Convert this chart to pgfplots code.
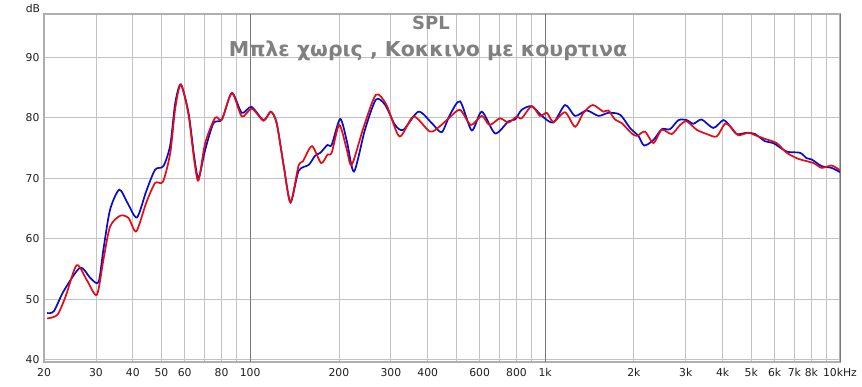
\documentclass[border=0pt]{standalone}
\usepackage{fontspec}
\setmainfont{DejaVu Sans}
\usepackage{pgfplots}
\pgfplotsset{compat=1.18}
\definecolor{bl}{RGB}{10,10,205}
\definecolor{rd}{RGB}{228,12,20}
\definecolor{tt}{RGB}{128,128,128}
\definecolor{gr}{RGB}{195,195,195}
\definecolor{gd}{RGB}{120,120,120}
\begin{document}
\begin{tikzpicture}
\path[use as bounding box] (0pt,0pt) rectangle (862pt,386pt);
\begin{axis}[at={(44pt,24pt)}, anchor=south west, scale only axis,
  width=796pt, height=348pt,
  xmode=log, xmin=20, xmax=10000, ymin=39.6, ymax=97.15,
  xtick={20,30,40,50,60,70,80,90,200,300,400,500,600,700,800,900,2000,3000,4000,5000,6000,7000,8000,9000},
  xticklabels={20,30,40,50,60,,80,,200,300,400,,600,,800,,2k,3k,4k,5k,6k,7k,8k,},
  extra x ticks={100,1000,10000},
  extra x tick labels={100,1k,10kHz},
  extra x tick style={grid style={draw=gd, line width=0.8pt}},
  ytick={40,50,60,70,80,90},
  major tick length=0pt,
  grid=major,
  grid style={draw=gr, line width=0.8pt},
  axis line style={draw=gr!90!black, line width=1.6pt},
  /pgf/number format/assume math mode=true,
  ticklabel style={font=\fontsize{10.8}{12}\selectfont, text=black!88},
  xticklabel style={yshift=-2.5pt},
  yticklabel style={xshift=-1pt},
  clip=true,
]
\addplot[draw=bl, line width=1.7pt, smooth, tension=0.45] coordinates {
(20.5,47.7)(21.6,48.0)(23.3,51.3)(26.5,55.2)(28.7,53.5)(30.6,52.8)(31.8,58.2)
(33.5,64.8)(36.0,68.1)(38.4,65.9)(41.3,63.5)(44.4,67.8)(47.6,71.4)(50.8,72.0)
(53.6,75.5)(55.7,82.4)(58.2,85.5)(61.8,80.8)(64.6,73.6)(66.8,70.0)(70.4,74.7)
(75.1,79.1)(80.2,79.7)(86.7,84.1)(93.7,80.8)(101,81.8)(111,79.6)(117.5,81.0)
(123,79.1)(130,72.0)(137,66.0)(146,71.2)(158,72.2)(166,73.7)(173,74.2)(183,75.5)
(189,75.5)(202,79.8)(213,76.0)(225,71.1)(245,78.0)(267,83.0)(287,82.1)(310,78.8)
(331,78.0)(372,81.0)(413,79.1)(446,77.6)(476,80.5)(515,82.7)(564,77.9)(610,81.0)
(677,77.4)(751,79.4)(791,79.7)(833,81.3)(901,81.9)(975,80.3)(1067,79.2)(1169,82.1)
(1264,80.3)(1384,81.2)(1517,80.3)(1640,80.8)(1796,80.5)(1941,78.3)(2071,77.0)
(2166,75.4)(2329,76.3)(2487,78.1)(2653,78.1)(2833,79.6)(3022,79.6)(3184,79.0)
(3396,79.7)(3720,78.3)(4020,79.6)(4236,78.6)(4463,77.3)(4828,77.5)(5153,77.3)
(5570,76.1)(5945,75.8)(6596,74.4)(7317,74.2)(7710,73.3)(8014,73.1)(8665,72.0)
(9367,71.7)(10000,71.0)
};
\addplot[draw=rd, line width=1.7pt, smooth, tension=0.45] coordinates {
(20.5,46.8)(22.2,47.4)(23.7,50.5)(25.8,55.6)(27.9,53.2)(30.2,50.7)(31.8,56.5)
(33.5,62.0)(36.3,63.8)(38.7,63.4)(41.1,61.2)(44.4,65.9)(47.6,69.2)(50.6,69.4)
(53.6,74.2)(55.7,81.5)(58.2,85.5)(61.8,80.5)(64.6,73.0)(66.8,69.6)(70.4,75.8)
(76.1,80.0)(80.2,79.7)(86.7,84.1)(93.7,80.2)(101.3,81.5)(111,79.5)(117.5,81.0)
(123,79.1)(130,72.0)(137,66.0)(145.8,72.0)(151,72.8)(162,75.3)(174,72.5)(183,73.9)
(189,74.2)(200.4,78.8)(212,75.0)(221,72.2)(242,78.3)(267,83.8)(290,82.1)(321,76.9)
(358,80.2)(407,77.7)(440,78.6)(476,80.1)(515,81.3)(560,78.8)(610,80.3)(648,78.8)
(703,79.9)(751,79.2)(802,80.2)(833,79.9)(901,81.9)(961,80.3)(1014,80.8)(1067,79.3)
(1169,80.9)(1264,78.5)(1349,80.8)(1451,82.1)(1577,81.0)(1640,81.2)(1726,79.7)
(1820,79.1)(1967,77.4)(2050,77.0)(2183,77.7)(2329,75.8)(2487,78.0)(2690,77.3)
(2870,78.8)(3022,79.4)(3268,78.0)(3534,77.3)(3820,76.9)(4074,79.0)(4290,78.3)
(4520,77.1)(4890,77.5)(5220,77.0)(5650,76.4)(6100,75.8)(6596,74.2)(7220,73.2)
(8128,72.5)(8665,71.7)(9367,72.1)(10000,71.3)
};
\end{axis}
\node[font=\fontsize{10.8}{12}\selectfont, text=black!88] at (33pt,378pt) {dB};
\node[font=\bfseries\fontsize{18}{20}\selectfont, text=tt, anchor=base] at (431pt,356pt) {SPL};
\node[font=\bfseries\fontsize{20.5}{22}\selectfont, text=tt, anchor=base] at (428pt,329pt) {Μπλε χωρις , Κοκκινο με κουρτινα};
\end{tikzpicture}
\end{document}
